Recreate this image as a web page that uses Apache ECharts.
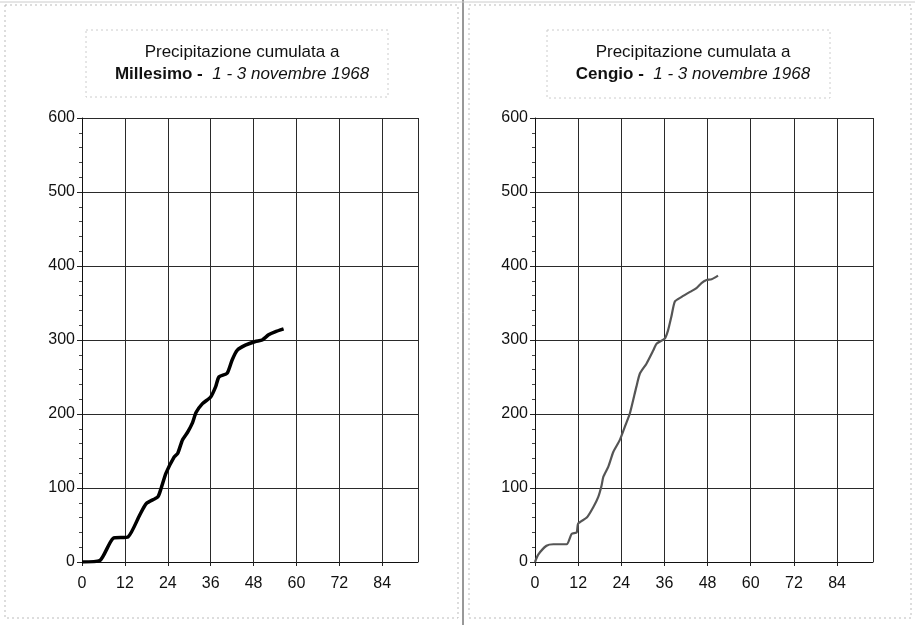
<!DOCTYPE html>
<html>
<head>
<meta charset="utf-8">
<script src="https://cdn.jsdelivr.net/npm/echarts@6/dist/echarts.min.js"></script>
<style>html,body{margin:0;padding:0;background:#fff}#c{width:915px;height:625px}</style>
</head>
<body>
<div id="c"></div>
<script>
// Millesimo: [hour, cumulative mm]
const millesimoHours = [0, 5, 8.7, 12.9, 16.1, 18, 21.2, 22.1, 23.5, 25.8, 26.8, 28.1, 29.5, 30.9, 31.9, 33.7, 36, 37.4, 38.3, 40.6, 42, 43.4, 45.7, 48.5, 50.4, 52.2, 54, 56.4];
const millesimoMm    = [0, 2, 32, 34, 63, 79, 88, 99, 120, 142, 147, 165, 175, 188, 202, 214, 223, 237, 250, 255, 273, 286, 293, 298, 300, 307, 311, 315];
// Cengio: [hour, cumulative mm]
const cengioHours = [0, 0.9, 3.2, 5.1, 8.8, 10.2, 11.6, 12, 14.4, 16.2, 17.6, 18.5, 19, 20.4, 21.8, 23.6, 25, 26.4, 28.2, 29.2, 31, 32.9, 33.8, 36.1, 37, 37.9, 38.9, 40.7, 43.1, 44.9, 46.3, 47.7, 49.1, 50.9];
const cengioMm    = [0, 10, 22, 24, 24, 38, 40, 52, 60, 74, 88, 103, 115, 129, 149, 165, 183, 201, 237, 255, 268, 286, 295, 302, 313, 331, 352, 358, 365, 370, 377, 381, 382, 387];
const xTicks = [0, 12, 24, 36, 48, 60, 72, 84];
const yTicks = [0, 100, 200, 300, 400, 500, 600];
const titleLine1 = 'Precipitazione cumulata a';
const stations = ['Millesimo', 'Cengio'];
const dateText = '1 - 3 novembre 1968';

const zip = (a, b) => a.map((v, i) => [v, b[i]]);
const chart = echarts.init(document.getElementById('c'));
const FONT = '"Liberation Sans", Arial, sans-serif';

function xAxis(idx) {
  return {
    gridIndex: idx, type: 'value', min: 0, max: 94, interval: 12,
    axisLine: { show: true, lineStyle: { color: '#111', width: 1 } },
    axisTick: { show: true, length: 4, lineStyle: { color: '#222' } },
    axisLabel: { color: '#111', fontSize: 16, fontFamily: FONT, margin: 14, showMaxLabel: false,
      formatter: v => xTicks.includes(v) ? String(v) : '' },
    splitLine: { show: true, lineStyle: { color: '#2a2a2a', width: 1 } }
  };
}
function yAxis(idx) {
  return {
    gridIndex: idx, type: 'value', min: 0, max: 600, interval: 100,
    axisLine: { show: true, lineStyle: { color: '#111', width: 1 } },
    axisTick: { show: true, length: 5, lineStyle: { color: '#222' } },
    minorTick: { show: true, splitNumber: 5, length: 3, lineStyle: { color: '#444' } },
    axisLabel: { color: '#111', fontSize: 16, fontFamily: FONT, margin: 7,
      formatter: v => yTicks.includes(v) ? String(v) : '' },
    splitLine: { show: true, lineStyle: { color: '#2a2a2a', width: 1 } }
  };
}
function titleText(name) {
  return '{a|' + titleLine1 + '}\n{b|' + name + ' -  }{c|' + dateText + '}';
}
const richT = {
  a: { fontSize: 17, fontFamily: FONT, fontWeight: 'normal', color: '#111', lineHeight: 22 },
  b: { fontSize: 17, fontFamily: FONT, fontWeight: 'bold', color: '#111', lineHeight: 22 },
  c: { fontSize: 17, fontFamily: FONT, fontWeight: 'normal', fontStyle: 'italic', color: '#111', lineHeight: 22 }
};

chart.setOption({
  animation: false,
  backgroundColor: '#fff',
  title: [
    { text: titleText(stations[0]), left: 237, top: 36, textAlign: 'center', textStyle: { fontWeight: 'normal', rich: richT } },
    { text: titleText(stations[1]), left: 688, top: 36, textAlign: 'center', textStyle: { fontWeight: 'normal', rich: richT } }
  ],
  grid: [
    { left: 82, top: 118, width: 336, height: 444 },
    { left: 535, top: 118, width: 338, height: 444 }
  ],
  xAxis: [xAxis(0), xAxis(1)],
  yAxis: [yAxis(0), yAxis(1)],
  series: [
    { type: 'line', xAxisIndex: 0, yAxisIndex: 0, data: zip(millesimoHours, millesimoMm),
      showSymbol: false, smooth: 0.2, lineStyle: { color: '#000', width: 3.5 } },
    { type: 'line', xAxisIndex: 1, yAxisIndex: 1, data: zip(cengioHours, cengioMm),
      showSymbol: false, smooth: 0.2, lineStyle: { color: '#555', width: 2.2 } }
  ],
  graphic: [
    { type: 'rect', shape: { x: 5, y: 5, width: 453, height: 613 }, silent: true,
      style: { fill: null, stroke: '#bbb', lineWidth: 1, lineDash: [2, 3] } },
    { type: 'rect', shape: { x: 469, y: 5, width: 442, height: 613 }, silent: true,
      style: { fill: null, stroke: '#bbb', lineWidth: 1, lineDash: [2, 3] } },
    { type: 'line', shape: { x1: 463, y1: 0, x2: 463, y2: 625 }, silent: true,
      style: { stroke: '#333', lineWidth: 1 } },
    { type: 'line', shape: { x1: 0, y1: 2, x2: 915, y2: 2 }, silent: true,
      style: { stroke: '#ccc', lineWidth: 1 } },
    { type: 'rect', shape: { x: 86, y: 30, width: 302, height: 67 }, silent: true,
      style: { fill: null, stroke: '#ccc', lineWidth: 1, lineDash: [2, 3] } },
    { type: 'rect', shape: { x: 547, y: 30, width: 283, height: 68 }, silent: true,
      style: { fill: null, stroke: '#ccc', lineWidth: 1, lineDash: [2, 3] } }
  ]
});
</script>
</body>
</html>
